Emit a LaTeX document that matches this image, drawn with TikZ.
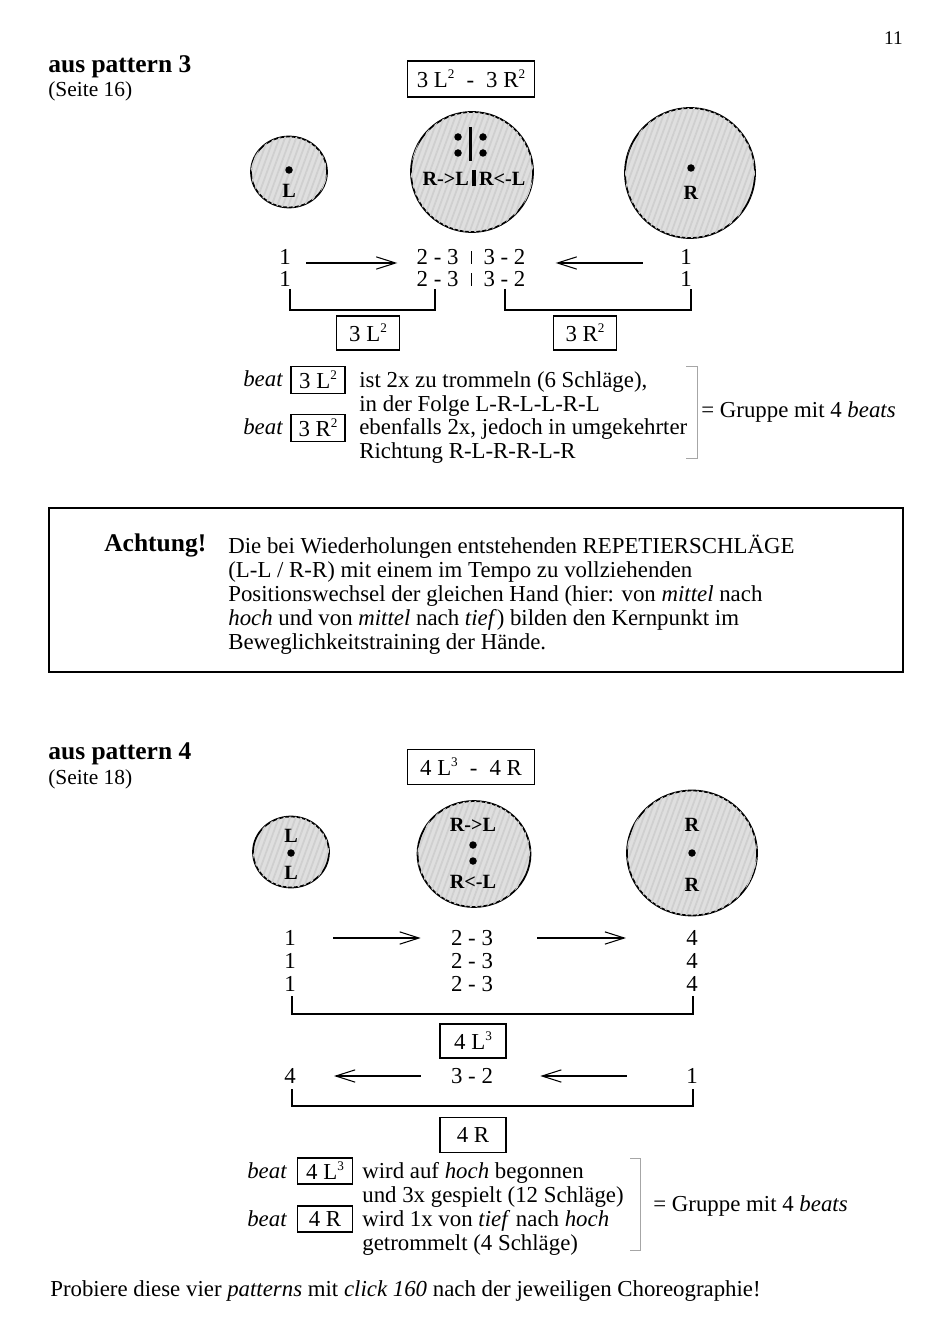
\documentclass[tikz,border=0pt]{standalone}
\usepackage{fontspec}
\setmainfont{Liberation Serif}
\usetikzlibrary{arrows.meta,positioning,shapes.geometric,patterns.meta}

\newcommand\mainsize{\fontsize{13}{13.6}\selectfont}
\newcommand\sqsup[1]{\raisebox{0.85ex}{\fontsize{7.5}{8}\selectfont #1}}

\begin{document}
\begin{tikzpicture}[x=0.02cm,y=-0.02cm,
txt/.style={inner sep=0pt, font=\mainsize},
para/.style={inner sep=0pt, font=\mainsize, align=left, anchor=north west},
head/.style={inner sep=0pt, font=\fontsize{14.5}{16}\selectfont\bfseries, anchor=base west},
sub/.style={inner sep=0pt, font=\fontsize{12.2}{13}\selectfont, anchor=base west},
tag/.style={draw, line width=0.6pt, inner sep=0pt, font=\mainsize},
drum/.style={ellipse, draw, line width=1pt, fill=gray!25,
  postaction={pattern={Lines[angle=70,distance=3pt,line width=1pt]}, pattern color=gray!38}},
dot/.style={circle, fill=black, inner sep=0pt, minimum size=0.15cm},
lbl/.style={inner sep=0pt, font=\fontsize{11.5}{13}\selectfont\bfseries},
arr/.style={-{Straight Barb[length=11pt,width=7pt]}, line width=0.6pt},
brk/.style={line width=1pt},
side/.style={gray!70, line width=0.5pt}
]
\useasboundingbox (0,0) rectangle (947,1337);

% page number
\node[inner sep=0pt, font=\fontsize{11}{13}\selectfont, anchor=base east] (pg) at (903,45) {11};

% ---------------- pattern 3 ----------------
\node[head] (h3) at (48,73) {aus pattern 3};
\node[sub] (s3) at (48,97) {(Seite 16)};
\node[tag, minimum width=2.54cm, minimum height=0.72cm] (t3) at (471,79) {3 L\sqsup{2}\; - \;3 R\sqsup{2}};

% drums
\node[drum, minimum width=1.52cm, minimum height=1.42cm] (dL3) at (289,172) {};
\node[drum, minimum width=2.44cm, minimum height=2.4cm] (dM3) at (472,172) {};
\node[drum, minimum width=2.6cm, minimum height=2.6cm] (dR3) at (690,173) {};

\node[dot] (pL3) at (289,170) {};
\node[lbl] (nL3) at (289,191) {L};
\node[dot] (pM3a) at (458,137) {};
\node[dot] (pM3b) at (483,137) {};
\node[dot] (pM3c) at (458,153) {};
\node[dot] (pM3d) at (483,153) {};
\draw[line width=2.2pt] (470.5,127) -- (470.5,161);
\node[lbl] (nM3) at (474,178) {R->L\,\rule[-0.3pt]{2pt}{9.5pt}\,R<-L};
\node[dot] (pR3) at (691,168) {};
\node[lbl] (nR3) at (691,193) {R};

% counting rows
\node[txt] (a31) at (285,257) {1};
\node[txt] (b31) at (471,257) {2 - 3 \;\rule[0.5pt]{0.5pt}{7pt}\; 3 - 2};
\node[txt] (c31) at (686,257) {1};
\node[txt] (a32) at (285,279) {1};
\node[txt] (b32) at (471,279) {2 - 3 \;\rule[0.5pt]{0.5pt}{7pt}\; 3 - 2};
\node[txt] (c32) at (686,279) {1};

\draw[arr, shorten <=0.3cm, shorten >=0.38cm] ([yshift=-0.12cm]a31.east) -- ([yshift=-0.12cm]b31.west);
\draw[arr, shorten <=0.74cm, shorten >=0.6cm] ([yshift=-0.12cm]c31.west) -- ([yshift=-0.12cm]b31.east);

% brackets
\draw[brk] (290,289) |- (435,310) -- (435,289);
\draw[brk] (505,289) |- (691,310) -- (691,289);
\node[tag, minimum width=1.26cm, minimum height=0.68cm] (k3L) at (368,333) {3 L\sqsup{2}};
\node[tag, minimum width=1.26cm, minimum height=0.68cm] (k3R) at (585,333) {3 R\sqsup{2}};

% legend
\node[txt, anchor=base east, font=\mainsize\itshape] (bt3a) at (283,387) {beat};
\node[tag, minimum width=1.08cm, minimum height=0.54cm] (g3L) at (318,380) {3 L\sqsup{2}};
\node[txt, anchor=base east, font=\mainsize\itshape] (bt3b) at (283,435) {beat};
\node[tag, minimum width=1.08cm, minimum height=0.54cm] (g3R) at (318,428) {3 R\sqsup{2}};
\node[para] (x3) at (359,371) {ist 2x zu trommeln (6 Schläge),\\
in der Folge L-R-L-L-R-L\\
ebenfalls 2x, jedoch in umgekehrter\\
Richtung R-L-R-R-L-R};
\draw[side] (686,366) -- (697,366) -- (697,458) -- (686,458);
\node[txt, anchor=west] (gr3) at (701,412) {= Gruppe mit 4 \textit{beats}};

% ---------------- Achtung ----------------
\draw[line width=0.6pt] (49,508) rectangle (903,672);
\node[inner sep=0pt, font=\fontsize{14.5}{16}\selectfont\bfseries, anchor=base west] (ach) at (104,551) {Achtung!};
\node[para] (ax) at (228,535) {Die bei Wiederholungen entstehenden REPETIERSCHLÄGE\\
(L-L / R-R) mit einem im Tempo zu vollziehenden\\
Positionswechsel der gleichen Hand (hier: von \textit{mittel} nach\\
\textit{hoch} und von \textit{mittel} nach \textit{tief}) bilden den Kernpunkt im\\
Beweglichkeitstraining der Hände.};

% ---------------- pattern 4 ----------------
\node[head] (h4) at (48,759) {aus pattern 4};
\node[sub] (s4) at (48,784) {(Seite 18)};
\node[tag, minimum width=2.54cm, minimum height=0.7cm] (t4) at (471,767) {4 L\sqsup{3}\; - \;4 R};

\node[drum, minimum width=1.52cm, minimum height=1.42cm] (dL4) at (291,852) {};
\node[drum, minimum width=2.26cm, minimum height=2.12cm] (dM4) at (474,854) {};
\node[drum, minimum width=2.6cm, minimum height=2.5cm] (dR4) at (692,853) {};

\node[lbl] (nL4a) at (291,836) {L};
\node[dot] (pL4) at (291,853) {};
\node[lbl] (nL4b) at (291,873) {L};
\node[lbl] (nM4a) at (473,825) {R->L};
\node[dot] (pM4a) at (473,845) {};
\node[dot] (pM4b) at (473,861) {};
\node[lbl] (nM4b) at (473,882) {R<-L};
\node[lbl] (nR4a) at (692,825) {R};
\node[dot] (pR4) at (692,853) {};
\node[lbl] (nR4b) at (692,885) {R};

% counting rows
\node[txt] (a41) at (290,938) {1};
\node[txt] (b41) at (472,938) {2 - 3};
\node[txt] (c41) at (692,938) {4};
\node[txt] (a42) at (290,961) {1};
\node[txt] (b42) at (472,961) {2 - 3};
\node[txt] (c42) at (692,961) {4};
\node[txt] (a43) at (290,984) {1};
\node[txt] (b43) at (472,984) {2 - 3};
\node[txt] (c43) at (692,984) {4};

\draw[arr, shorten <=0.74cm, shorten >=0.6cm] (a41) -- (b41);
\draw[arr, shorten <=0.88cm, shorten >=1.2cm] (b41) -- (c41);

\draw[brk] (292,996) |- (693,1014) -- (693,996);
\node[tag, minimum width=1.32cm, minimum height=0.68cm] (k4L) at (473,1041) {4 L\sqsup{3}};

\node[txt] (a44) at (290,1076) {4};
\node[txt] (b44) at (472,1076) {3 - 2};
\node[txt] (c44) at (692,1076) {1};
\draw[arr, shorten <=0.6cm, shorten >=0.76cm] (b44) -- (a44);
\draw[arr, shorten <=1.18cm, shorten >=0.94cm] (c44) -- (b44);

\draw[brk] (292,1089) |- (693,1106) -- (693,1089);
\node[tag, minimum width=1.32cm, minimum height=0.7cm] (k4R) at (473,1135) {4 R};

% legend
\node[txt, anchor=base east, font=\mainsize\itshape] (bt4a) at (287,1178) {beat};
\node[tag, minimum width=1.1cm, minimum height=0.52cm] (g4L) at (325,1171) {4 L\sqsup{3}};
\node[txt, anchor=base east, font=\mainsize\itshape] (bt4b) at (287,1226) {beat};
\node[tag, minimum width=1.1cm, minimum height=0.52cm] (g4R) at (325,1219) {4 R};
\node[para] (x4) at (362,1162) {wird auf \textit{hoch} begonnen\\
und 3x gespielt (12 Schläge)\\
wird 1x von \textit{tief} nach \textit{hoch}\\
getrommelt (4 Schläge)};
\draw[side] (630,1158) -- (640,1158) -- (640,1250) -- (630,1250);
\node[txt, anchor=west] (gr4) at (653,1206) {= Gruppe mit 4 \textit{beats}};

% footer
\node[txt, anchor=base west] (ft) at (50,1296) {Probiere diese vier \textit{patterns} mit \textit{click 160} nach der jeweiligen Choreographie!};

\end{tikzpicture}
\end{document}
